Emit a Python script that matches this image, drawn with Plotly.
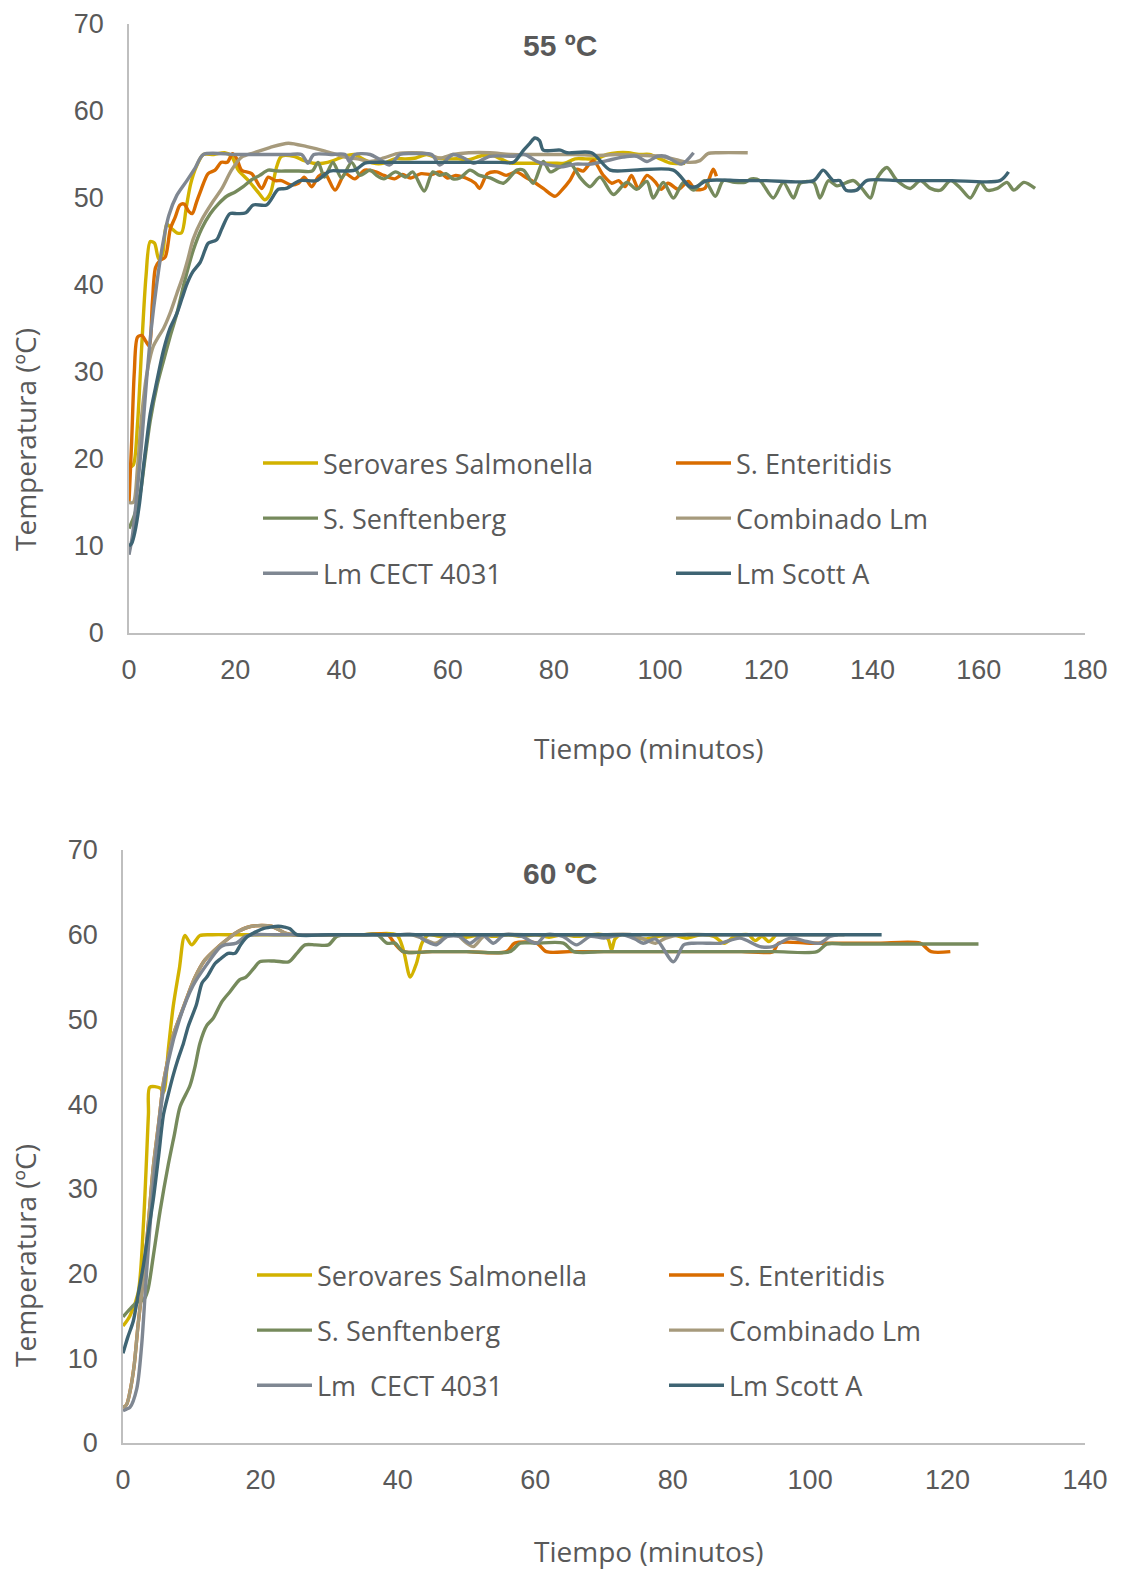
import plotly.graph_objects as go

# ---------------- DATA (time in minutes, temperature in ºC) ----------------
# 55 ºC
sal_55 = [(0,19),(0.8,19.3),(1.6,24),(2.4,33),(3.2,41),(4.0,45),(4.8,44.8),(5.6,43),(6.3,43.5),(7.1,47),(8.0,46.5),(9.0,46),(9.9,46),(10.8,49),(11.6,51.6),(12.6,53.5),(14,55),(16,55),(18,55.2),(19.3,54.8),(20.6,53.2),(22.5,52),(24.4,50.6),(25.6,49.8),(26.6,50.5),(27.8,53.6),(28.7,54.8),(31,54.8),(33,54.3),(34.7,54),(36.5,54),(38.5,54.3),(40.5,54.8),(42.5,55),(44,54.5),(46,54),(48,54),(50,54.5),(52,54.5),(54,54.6),(56,55),(58,54.6),(60,54.5),(62,54.5),(64,54.4),(66,54.8),(68,55),(70,54.5),(72,54),(74,54),(76,54),(78,54),(80,54),(82,54),(84,54.5),(86,54.5),(88,54.5),(90,55),(92,55.2),(94,55.2),(96,55),(98,55),(100,54.5),(102,54),(104.7,54)]
ent_55 = [(0,15),(0.5,22),(1.0,30),(1.6,34),(2.4,34.2),(3.2,33.5),(3.8,33),(4.4,38),(5.0,42),(5.8,42.8),(6.8,43.2),(7.8,46.5),(8.7,47.8),(9.6,49.2),(10.4,49.3),(11.2,48.5),(11.9,48.2),(12.7,49.5),(13.6,51),(14.9,52.8),(16.2,53.2),(17.4,54.1),(18.5,54.1),(19.5,55.1),(20.3,54.5),(21.2,53.2),(23.1,52.8),(25,51.1),(26.2,52.4),(27.5,52),(28.7,52),(30.5,51.5),(31.9,51.7),(33,52.4),(34.4,51.3),(35.7,52.5),(36.9,52.8),(38.8,50.9),(40.7,52.8),(42.5,52.2),(44.4,53.2),(46.5,53),(48,52.6),(50,52.2),(51.5,52.7),(53,52.3),(55,52.8),(57,52.7),(58.5,53),(60,52.3),(61.5,52.6),(63.4,52.3),(65.2,51.7),(66,51.1),(67.5,52.8),(69.3,53),(71,52.6),(72.9,53),(74.9,52.3),(76.6,51.7),(78,51.1),(80.2,50.2),(81.5,50.9),(83,52),(84.3,53.3),(85.5,53.1),(87.4,54.3),(89.3,52.6),(90.9,51.7),(92.2,52),(93.4,51.3),(94.6,52.6),(95.9,51.1),(97.5,52.6),(99,51.9),(100.2,51),(101.5,51.7),(103.4,51),(105.3,51.9),(106.6,51),(108.4,51.1),(110,53.3),(110.6,52.5)]
sen_55 = [(0,12),(1,13.5),(2.1,16),(3,20),(4,24.4),(5.3,28.5),(6.5,31.3),(7.7,34),(9,36.7),(10.5,40.5),(12.1,44),(13.7,46.5),(15.3,48.2),(16.8,49.3),(18.4,50.2),(20,50.7),(21.5,51.3),(23.1,52.1),(24.6,52.6),(26.2,53.2),(28,53.1),(30,53.1),(32,53.1),(34.5,53.1),(35.6,54.1),(36.8,52.4),(38.4,54.1),(40,52.3),(41.9,54.1),(43.5,52.6),(45.4,53.2),(46.6,52.6),(48,52.2),(50.2,53),(52.1,52.4),(53.4,53),(55.6,50.8),(57.2,53),(58.5,52.6),(59.7,52.8),(61,52.2),(62.3,52.3),(64.2,53.2),(66,52.6),(68,52.3),(70.5,51.7),(73,53.2),(74.3,53.2),(76.1,51.7),(78,54.2),(79.3,53),(81,53.5),(83,54),(85,52.3),(86.8,51.3),(88.7,52.4),(91.2,50.4),(93.7,51.8),(95.6,51),(97.5,51.9),(98.7,50),(100.6,51.8),(102.5,50),(104.4,51.8),(106.3,50.9),(108.4,52),(110.4,50.2),(111.9,52),(114,51.8),(116,51.8),(117.2,52.2),(118.8,52),(121.3,50),(123.2,51.8),(125.1,50),(126.4,51.7),(128.9,51.8),(130.1,50),(131.7,52),(133.3,51.4),(136.4,52),(138,51.1),(139.6,50),(140.8,52.2),(142.7,53.5),(144.6,52),(147.1,51.1),(149,52),(150.9,51.1),(152.8,50.9),(154.7,52),(156.6,51.1),(158.4,50),(160.3,51.8),(161.6,50.9),(163.5,51.1),(165.3,51.8),(166.6,50.9),(168.5,51.8),(170.6,51.1)]
comb_55 = [(0,15),(0.8,15),(1.6,19),(2.4,25),(3.3,29.6),(4.1,32),(4.6,33),(5.5,34),(6.5,35),(7.7,36.7),(9,39),(10.2,41.1),(11.1,43),(12.1,45.3),(13.7,47.5),(15.6,49.4),(17.5,51.1),(19.3,53.2),(21.2,54.7),(23.5,55.2),(26.5,55.8),(30,56.3),(33.5,55.9),(36.9,55.4),(40.7,54.7),(43,54.5),(45.4,54.2),(48,54.6),(50.5,55.1),(54,55.2),(56,55.1),(58.5,54.6),(61,55),(64,55.2),(68,55.2),(72,55),(76,55),(80,55),(84,55),(88,54.9),(92,55),(96,54.9),(100,54.8),(103,54.4),(105.5,54.1),(107.5,54.3),(109,55.1),(111,55.2),(116.5,55.2)]
cect_55 = [(0,9),(0.6,11),(1.5,16),(2.4,22),(3.3,29),(4.2,35),(5.2,40),(6.3,44.5),(7.5,48),(9,50.3),(10.9,52),(12.5,53.5),(14,55),(20,55),(25,55),(30,55),(32.5,55),(33.7,54),(34.8,55),(38,55),(40.7,55),(41.5,54.2),(42.5,55),(45.4,55),(47,54.5),(49.1,53.8),(51,55),(54,55.1),(57,55),(58.5,53.8),(61,55),(63,54.6),(64.9,54),(68,54.8),(72.4,54.8),(74.5,55),(76.8,54.2),(79,53.8),(81.7,53.6),(84,53.9),(87,53.9),(90,54.3),(93,54.7),(95.6,54.8),(97.5,54.2),(99.5,54.8),(101,54.8),(104,53.9),(106.3,55.2)]
scott_55 = [(0,10),(0.5,10.3),(1.1,11.6),(2,15),(2.7,19),(3.3,22),(4,25.2),(5.2,28.8),(6.5,32.5),(7.7,35),(9,36.7),(10,38.5),(10.9,40.1),(12,41.5),(13.4,42.6),(14.3,44),(14.9,44.8),(16.5,45.2),(17.5,46.5),(19,48.2),(20.5,48.2),(22,48.3),(23.4,49.2),(25.9,49.2),(28.1,51),(29.6,51.1),(32.2,52),(35.3,52),(37.8,53.1),(40,53.1),(42.5,53.2),(44.4,54),(46,54.1),(50,54.1),(55,54.1),(60,54.1),(65,54.1),(70,54.1),(72.4,54.1),(74.3,55.5),(75.5,56.3),(76.4,56.9),(77.3,56.6),(78,55.5),(81.2,55.5),(82.5,55.2),(87.1,55.2),(90.6,53.2),(95,53.2),(102.5,53.2),(105.6,51.3),(106.8,51.3),(108.8,52),(115,52),(120,52),(128.9,52),(130.7,53.2),(132.6,52),(133.8,52),(135,50.9),(137,50.9),(138.9,52),(145,52),(150,52),(155,52),(164,52),(165.6,53)]

# 60 ºC
sal_60 = [(0,13.8),(1,15),(2.2,17.7),(3,26.2),(3.7,38.8),(3.9,42),(5.4,41.9),(5.9,41.4),(6.6,46.5),(7.3,51.5),(8.2,56),(9,59.9),(10,58.8),(11.2,59.9),(13,60),(16,60),(20,60),(25,60),(30,60),(35,60),(39.8,60),(40.8,58.2),(41.8,55),(42.7,56.6),(43.5,59),(44.5,60),(46,59.8),(48,60),(50,59.7),(52,60),(54,59.8),(56,60),(58,59.8),(60,60),(62,59.7),(64,60),(66,59.8),(68,60),(69.8,60),(70.6,59.5),(71.1,58.2),(71.6,59.5),(72.5,60),(74,59.8),(76,59.5),(78,59.8),(80,60),(82,59.6),(84,60),(86,59.8),(87.5,59),(89,59.8),(91,60),(92,59.3),(93,59.8),(94,59.2),(95,60)]
ent_60 = [(0,4.2),(0.5,4.5),(1,6),(1.6,9),(2.2,14),(3,19.8),(3.7,26),(4.4,32.5),(5.2,37.8),(5.9,42.6),(6.6,45.5),(7.3,48.1),(8.5,50.8),(9.5,53),(10.5,55),(11.9,57),(13.9,58.6),(15.4,59.6),(16.8,60.4),(18.7,61),(21.6,61),(23.6,60.2),(25,60),(30,60),(35,60),(38.5,60),(39.5,59),(40.8,58),(45,58),(50,58),(55.8,58),(57,59),(60.2,59),(61.6,58),(65,58),(70,58),(75,58),(80,58),(85,58),(90,58),(94.6,58),(95.4,59),(100,59),(105,59),(110,59),(116,59),(117.6,58),(120.4,58)]
sen_60 = [(0,14.9),(1,15.8),(2,16.6),(3,16.9),(3.6,18),(4.4,22),(5.4,27.4),(6.6,32.9),(7.5,36.5),(8.3,39.7),(9.75,42.2),(10.5,44.5),(11.2,47.2),(12.2,49.3),(13.1,50.1),(14.4,52.1),(15.6,53.3),(17,54.7),(17.9,55),(19,56),(19.9,56.8),(22,56.9),(24.1,56.8),(25.3,57.8),(26.5,58.8),(28,58.8),(29.9,58.8),(31.1,59.8),(33,60),(35,60),(37,60),(38.4,59),(39.6,59),(40.8,58),(45,58),(50,58),(56.3,58),(57.8,59),(60,59),(64.1,59),(65.6,58),(70,58),(75,58),(80,58),(85,58),(90,58),(95,58),(101,58),(102.4,58.9),(105,58.9),(110,58.9),(115,58.9),(120,58.9),(124.5,58.9)]
comb_60 = [(0,4.2),(0.5,4.5),(1,6),(1.6,9),(2.2,14),(3,19.8),(3.7,26),(4.4,32.5),(5.2,37.8),(5.9,42.6),(6.6,45.5),(7.3,48.1),(8.5,50.8),(9.5,53),(10.5,55),(11.9,57),(13.9,58.6),(15.4,59.6),(16.8,60.4),(18.7,61),(21.6,61),(23.6,60.2),(25,60),(28,60),(32,60),(36,60),(40,60),(42,60),(43.5,59.6),(45.5,59),(47,59.8),(48.5,60),(50,59),(51,58.6),(52.5,59.8),(55,60),(60,60),(65,60),(70,60),(74,60),(76,59.4),(77.5,59),(79,59.6),(81,60),(85,60),(90,60),(95,60),(100,60),(105,60)]
cect_60 = [(0,3.8),(0.5,4),(1,4.2),(2,6.4),(2.7,11.4),(3.4,19.8),(4.4,30.4),(5.4,38.8),(6.6,45.1),(8.3,50.2),(10.2,54),(12.2,56.5),(14.1,58.5),(14.8,58.8),(16.5,59),(17.8,59.8),(19,60),(22,60),(25,60),(30,60),(35,60),(40,60),(42.5,60),(44.2,59.2),(45.6,58.8),(47.2,59.8),(49,59.8),(50.5,59),(52.3,60),(53.9,59),(55.5,60),(58,59.8),(60.2,59),(61.6,60),(64,59.8),(66,58.8),(68,59.8),(70,59.6),(72.7,60),(74.5,59.5),(75.7,59),(77.5,59.5),(80.1,56.8),(81.6,58.8),(83,59),(84.9,59),(87,59),(89.8,59.6),(92.7,58.6),(94.6,58.6),(97.1,59.6),(99.5,59.2),(101.4,59),(102.9,59.8),(104,60)]
scott_60 = [(0,10.6),(0.7,12.5),(1.5,14.4),(2.2,17.5),(3,21.1),(3.7,25),(4.4,28.7),(5.2,34),(5.9,38.8),(6.6,41.2),(7.3,43.4),(8,45.3),(8.8,47.2),(9.5,49.2),(10.7,51.8),(11.5,54.3),(12.2,55),(13.4,56.6),(14.1,57.1),(15.3,57.8),(16.3,57.8),(17.1,58.8),(18,59.7),(19,60.2),(20.3,60.7),(21.5,60.9),(22.6,61),(23.5,60.9),(24.3,60.7),(25.3,60),(30,60),(40,60),(50,60),(60,60),(70,60),(80,60),(90,60),(100,60),(110.4,60)]

names_55 = ["Serovares Salmonella", "S. Enteritidis", "S. Senftenberg", "Combinado Lm", "Lm CECT 4031", "Lm Scott A"]
names_60 = ["Serovares Salmonella", "S. Enteritidis", "S. Senftenberg", "Combinado Lm", "Lm  CECT 4031", "Lm Scott A"]
colors = ["#D2B200", "#D96C00", "#768A5C", "#A69A7C", "#7F8792", "#3E6473"]

x_ticks_55 = [0, 20, 40, 60, 80, 100, 120, 140, 160, 180]
x_ticks_60 = [0, 20, 40, 60, 80, 100, 120, 140]
y_ticks = [0, 10, 20, 30, 40, 50, 60, 70]

titles = ["55 ºC", "60 ºC"]
x_title = "Tiempo (minutos)"
y_title = "Temperatura (ºC)"

# ---------------- FIGURE ----------------
W, H = 1122, 1571
TXT = "#595959"
AX = "#BFBFBF"

fig = go.Figure()

def add(pairs, name, color, xa, ya, legend, group):
    fig.add_trace(go.Scatter(
        x=[p[0] for p in pairs], y=[p[1] for p in pairs], mode="lines", name=name,
        line=dict(color=color, width=3.4, shape="spline", smoothing=0.8),
        xaxis=xa, yaxis=ya, legend=legend, legendgroup=group, hoverinfo="skip"))

top = [sal_55, ent_55, sen_55, comb_55, cect_55, scott_55]
bot = [sal_60, ent_60, sen_60, comb_60, cect_60, scott_60]
for i, s in enumerate(top):
    add(s, names_55[i], colors[i], "x", "y", "legend" if i % 2 == 0 else "legend2", "t%d" % i)
for i, s in enumerate(bot):
    add(s, names_60[i], colors[i], "x2", "y2", "legend3" if i % 2 == 0 else "legend4", "b%d" % i)

def px(x): return x / W
def py(y): return 1 - y / H

tickfont = dict(family="Liberation Sans, Arial", size=27, color=TXT)
axis_common = dict(showline=True, linecolor=AX, linewidth=1.5, showgrid=False, zeroline=False,
                   ticks="", tickfont=tickfont, fixedrange=True, automargin=False)
xcommon = dict(axis_common, ticklabelstandoff=12)
ycommon = dict(axis_common, ticklabelstandoff=18)

legfont = dict(family="Open Sans", size=27, color=TXT)
def leg(x, y):
    return dict(x=px(x), y=py(y), xanchor="left", yanchor="top", font=legfont,
                bgcolor="rgba(0,0,0,0)", tracegroupgap=17, itemwidth=55, orientation="v",
                traceorder="grouped")

fig.update_layout(
    width=W, height=H, margin=dict(l=0, r=0, t=0, b=0, autoexpand=False),
    paper_bgcolor="white", plot_bgcolor="white", showlegend=True,
    xaxis=dict(domain=[px(129), px(1085)], range=[0, 180], tickvals=x_ticks_55, anchor="y", **xcommon),
    yaxis=dict(domain=[py(633), py(24)], range=[0, 70], tickvals=y_ticks, anchor="x", **ycommon),
    xaxis2=dict(domain=[px(123), px(1085)], range=[0, 140], tickvals=x_ticks_60, anchor="y2", **xcommon),
    yaxis2=dict(domain=[py(1443), py(850)], range=[0, 70], tickvals=y_ticks, anchor="x2", **ycommon),
    legend=leg(258, 439), legend2=leg(671, 439),
    legend3=leg(252, 1251), legend4=leg(664, 1251),
)

ann_font = dict(family="Open Sans", size=28, color=TXT)
title_font = dict(family="Liberation Sans, Arial", size=30, color=TXT)
annotations = [
    dict(text="<b>%s</b>" % titles[0], x=px(560), y=py(46), font=title_font),
    dict(text="<b>%s</b>" % titles[1], x=px(560), y=py(873), font=title_font),
    dict(text=x_title, x=px(648), y=py(748), font=ann_font),
    dict(text=x_title, x=px(648), y=py(1551), font=ann_font),
    dict(text=y_title, x=px(25), y=py(440), font=ann_font, textangle=-90),
    dict(text=y_title, x=px(25), y=py(1256), font=ann_font, textangle=-90),
]
for a in annotations:
    a.update(xref="paper", yref="paper", xanchor="center", yanchor="middle", showarrow=False)
fig.update_layout(annotations=annotations)

fig.write_html("out.html", config={"displayModeBar": False})
